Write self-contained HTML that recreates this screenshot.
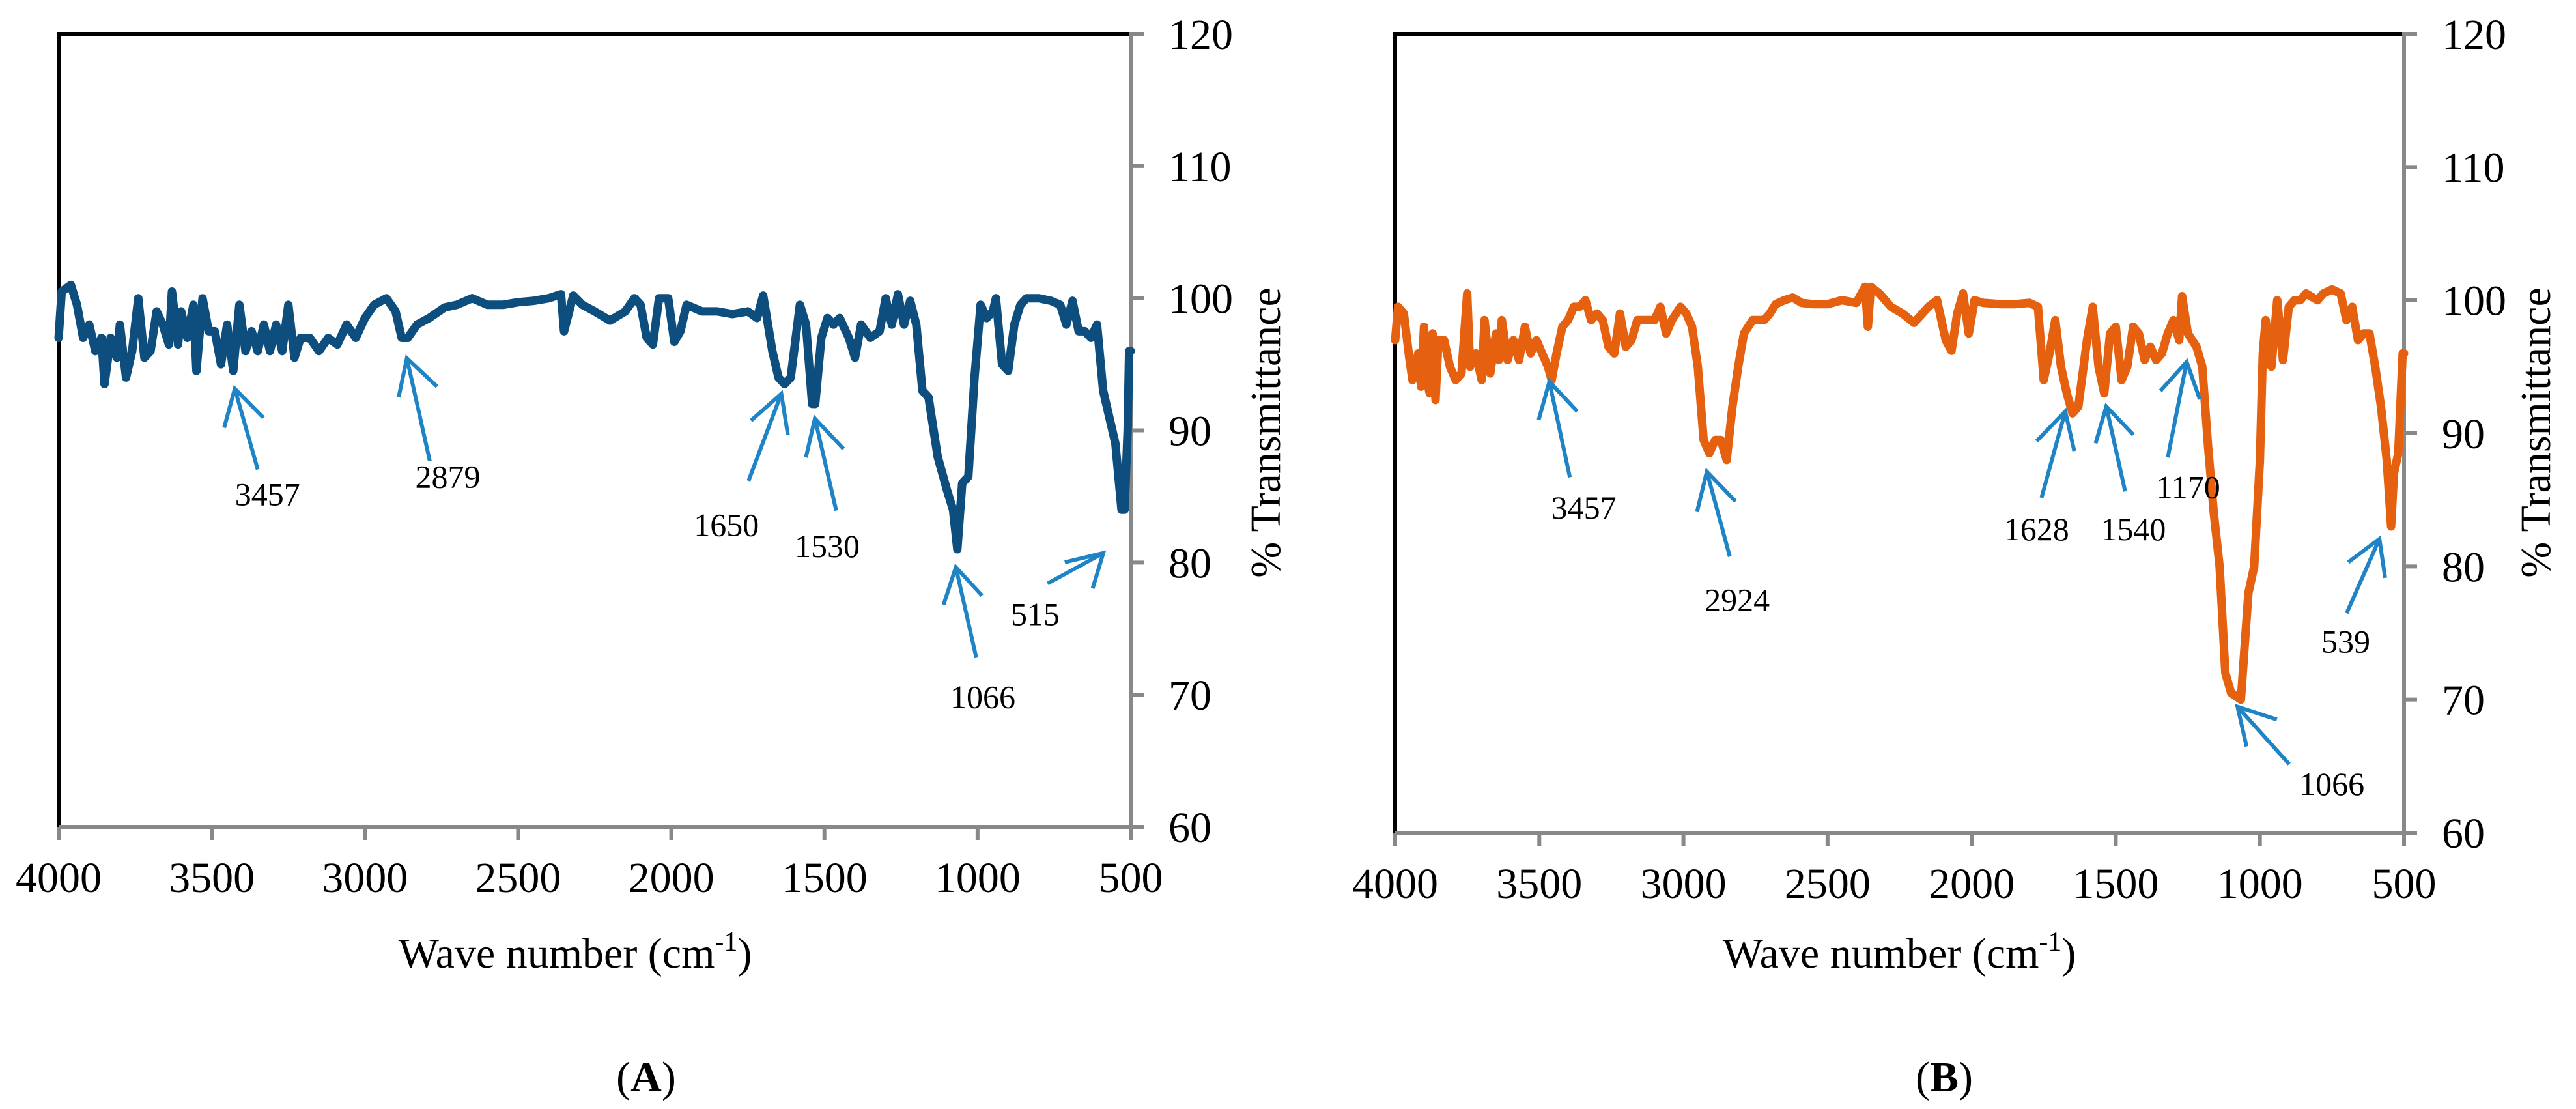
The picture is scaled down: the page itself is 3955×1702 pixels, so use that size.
<!DOCTYPE html>
<html><head><meta charset="utf-8"><style>
html,body{margin:0;padding:0;background:#fff;}
svg{display:block;}
text{font-family:"Liberation Serif",serif;fill:#000;}
</style></head><body>
<svg id="c" width="3955" height="1702" xmlns="http://www.w3.org/2000/svg"></svg>
<script>
const xTicks=[4000,3500,3000,2500,2000,1500,1000,500];
const yTicks=[60,70,80,90,100,110,120];
const waveA=[4000,3990,3960,3940,3920,3900,3880,3860,3850,3830,3810,3800,3780,3760,3740,3720,3700,3680,3660,3640,3630,3610,3600,3580,3560,3550,3530,3510,3490,3470,3450,3430,3410,3390,3370,3350,3330,3310,3290,3270,3250,3230,3210,3180,3150,3120,3090,3060,3030,3000,2970,2930,2900,2880,2860,2830,2790,2740,2700,2650,2600,2550,2500,2450,2400,2360,2350,2320,2290,2250,2200,2150,2120,2100,2080,2060,2040,2010,1990,1970,1950,1900,1850,1800,1750,1720,1700,1670,1650,1630,1610,1580,1560,1540,1530,1510,1490,1470,1450,1420,1400,1380,1350,1320,1300,1280,1260,1240,1220,1200,1180,1160,1130,1100,1080,1066,1050,1030,1010,990,970,950,940,920,900,880,860,840,800,760,730,710,690,670,650,630,610,590,570,550,530,520,510,505,500];
const transA=[97,100.5,101,99.5,97,98,96,97,93.5,97,95.5,98,94,96,100,95.5,96,99,98,96.5,100.5,96.5,99,97,99.5,94.5,100,97.5,97.5,95,98,94.5,99.5,96,97.5,96,98,96,98,96,99.5,95.5,97,97,96,97,96.5,98,97,98.5,99.5,100,99,97,97,98,98.5,99.3,99.5,100,99.5,99.5,99.7,99.8,100,100.3,97.5,100.2,99.5,99,98.3,99,100,99.5,97,96.5,100,100,96.7,97.5,99.5,99,99,98.8,99,98.5,100.2,96,94,93.5,94,99.5,98,92,92,97,98.5,98,98.5,97,95.5,98,97,97.5,100,98,100.3,98,99.8,98,93,92.5,88,85.5,84,81,86,86.5,94,99.5,98.5,99,100,95,94.5,98,99.5,100,100,99.8,99.5,98,99.8,97.5,97.5,97,98,93,91,89,84,84,90,96,96];
const waveB=[4000,3990,3970,3950,3940,3920,3910,3900,3890,3880,3870,3860,3850,3830,3810,3790,3770,3750,3740,3720,3700,3690,3670,3650,3640,3630,3610,3590,3570,3550,3530,3510,3490,3470,3457,3440,3420,3400,3380,3360,3340,3320,3300,3280,3260,3240,3220,3200,3180,3160,3140,3100,3080,3060,3040,3010,2990,2970,2950,2930,2910,2890,2870,2850,2830,2810,2790,2760,2720,2700,2680,2650,2620,2590,2550,2500,2450,2400,2370,2360,2350,2320,2280,2240,2200,2150,2120,2090,2070,2050,2030,2010,1990,1960,1900,1850,1800,1770,1750,1730,1710,1690,1670,1650,1630,1600,1580,1560,1540,1520,1500,1480,1460,1440,1420,1400,1380,1360,1340,1320,1300,1280,1270,1250,1220,1200,1180,1160,1140,1120,1100,1066,1040,1020,1000,990,980,960,940,920,900,880,860,840,800,780,750,720,700,680,660,640,620,600,580,560,545,535,520,505,500];
const transB=[97,99.5,99,95.5,94,96,93.5,98,94,93,97.5,92.5,97,97,95,94,94.5,100.5,95,96,94,98.5,94.5,97.5,95.5,98.5,95.5,97,95.5,98,96,97,96,95,94,96,98,98.5,99.5,99.5,100,98.5,99,98.5,96.5,96,99,96.5,97,98.5,98.5,98.5,99.5,97.5,98.5,99.5,99,98,95,89.5,88.5,89.5,89.5,88,92,95,97.5,98.5,98.5,99,99.7,100,100.2,99.8,99.7,99.7,100,99.8,101,98,101,100.5,99.5,99,98.3,99.5,100,97,96.2,99,100.5,97.5,100,99.8,99.7,99.7,99.8,99.5,94,96,98.5,95,93,91.5,92,97,99.5,95,93,97.5,98,94,95,98,97.5,95.5,96.5,95.5,96,97.5,98.5,97,100.3,97.5,96.5,95,89,84,80,72,70.5,70,78,80,88,96,98.5,95,100,95.5,99.5,100,100,100.5,100,100.5,100.8,100.5,98.5,99.5,97,97.5,97.5,95,92,88,83,87,88.5,96,96];
const labelsA=["3457","2879","1650","1530","1066","515"];
const labelsB=["3457","2924","1628","1540","1170","1066","539"];

const NS="http://www.w3.org/2000/svg";
const svg=document.getElementById('c');
function mk(tag,attrs,parent){const e=document.createElementNS(NS,tag);for(const k in attrs)e.setAttribute(k,attrs[k]);(parent||svg).appendChild(e);return e;}

function panel(o){
  const g=mk('g',{});
  
  
  const X=w=>o.l+(4000-w)/3500*(o.r-o.l);
  const Y=t=>o.b-(t-60)/60*(o.b-o.t);
  const fr=mk('path',{d:`M${o.l},${o.b} L${o.l},${o.t} L${o.r},${o.t}`,fill:'none',stroke:'#000','stroke-width':6},g);
  
  
  const xa=mk('line',{x1:o.l,y1:o.b,x2:o.r,y2:o.b,stroke:'#888','stroke-width':6},g);
  
  
  const ya=mk('line',{x1:o.r,y1:o.t-3,x2:o.r,y2:o.b+3,stroke:'#888','stroke-width':6},g);
  
  
  xTicks.forEach(v=>{
    const x=X(v);
    const tk=mk('line',{x1:x,y1:o.b,x2:x,y2:o.b+20,stroke:'#888','stroke-width':6},g);
    
    
    const t=mk('text',{x:x,y:o.b+100,'font-size':66,'text-anchor':'middle'},g);
    t.textContent=v;
    
    
  });
  yTicks.forEach(v=>{
    const y=Y(v);
    const tk=mk('line',{x1:o.r,y1:y,x2:o.r+20,y2:y,stroke:'#888','stroke-width':6},g);
    
    
    const t=mk('text',{x:o.r+58,y:y+23,'font-size':66},g);
    t.textContent=v;
    
    
  });
  const pts=o.w.map((w,i)=>X(w).toFixed(1)+','+Y(o.t_[i]).toFixed(1)).join(' ');
  const pl=mk('polyline',{points:pts,fill:'none',stroke:o.color,'stroke-width':13,'stroke-linejoin':'round','stroke-linecap':'round'},g);
  
  
  const mx=z=>o.l+(z-o.zl)*o.sx, my=z=>52+(z-47)*1.087;
  o.arrows.forEach((a,i)=>{
    const [tx,ty,hx,hy,w1x,w1y,w2x,w2y,lx,ly]=a;
    const p=mk('path',{d:`M${mx(tx)},${my(ty)} L${mx(hx)},${my(hy)} M${mx(w1x)},${my(w1y)} L${mx(hx)},${my(hy)} L${mx(w2x)},${my(w2y)}`,fill:'none',stroke:'#1e84c6','stroke-width':6},g);
    
    
    const t=mk('text',{x:mx(lx),y:my(ly)+17,'font-size':50,'text-anchor':'middle'},g);
    t.textContent=o.labels[i];
    
    
  });
  const yt=mk('text',{x:0,y:0,'font-size':66,'text-anchor':'middle',transform:`translate(${o.ytx},664) rotate(-90)`},g);
  yt.textContent='% Transmittance';
  
  
  const xt=mk('text',{x:o.xtx,y:1485,'font-size':66,'text-anchor':'middle'},g);
  xt.innerHTML='Wave number (cm<tspan dy="-26" font-size="42">-1</tspan><tspan dy="26">)</tspan>';
  
  
  const pt=mk('text',{x:o.ptx,y:1675,'font-size':66,'text-anchor':'middle'},g);
  pt.innerHTML='(<tspan font-weight="bold">'+o.letter+'</tspan>)';
  
  
}
panel({name:'panel-a',l:90,r:1736,t:52,b:1269,color:'#0d4e7e',w:waveA,t_:transA,zl:70,sx:1.258,labels:labelsA,
 arrows:[[313,662,285,548,272,603,320,589,325,697],[523,650,495,505,485,560,532,545,545,672],[912,678,952,555,915,593,960,613,885,740],[1019,720,993,590,982,645,1028,633,1008,770],[1190,928,1165,800,1150,853,1197,840,1198,983],[1277,823,1345,780,1298,793,1332,830,1262,866]],
 ytx:1965,xtx:883,ptx:992,letter:'A'});
panel({name:'panel-b',l:2142,r:3691,t:52,b:1278,color:'#e5600f',w:waveB,t_:transB,zl:130,sx:1.2593,labels:labelsB,
 arrows:[[343,673,318,538,305,592,352,580,360,716],[538,785,510,665,498,722,545,707,547,846],[918,702,947,580,912,622,958,636,912,746],[1020,693,997,573,984,625,1030,613,1030,746],[1072,645,1095,510,1063,551,1111,563,1097,687],[1220,1078,1157,997,1168,1053,1205,1015,1272,1106],[1290,865,1330,760,1292,793,1337,815,1289,905]],
 ytx:3915,xtx:2916,ptx:2985,letter:'B'});
</script>
</body></html>
